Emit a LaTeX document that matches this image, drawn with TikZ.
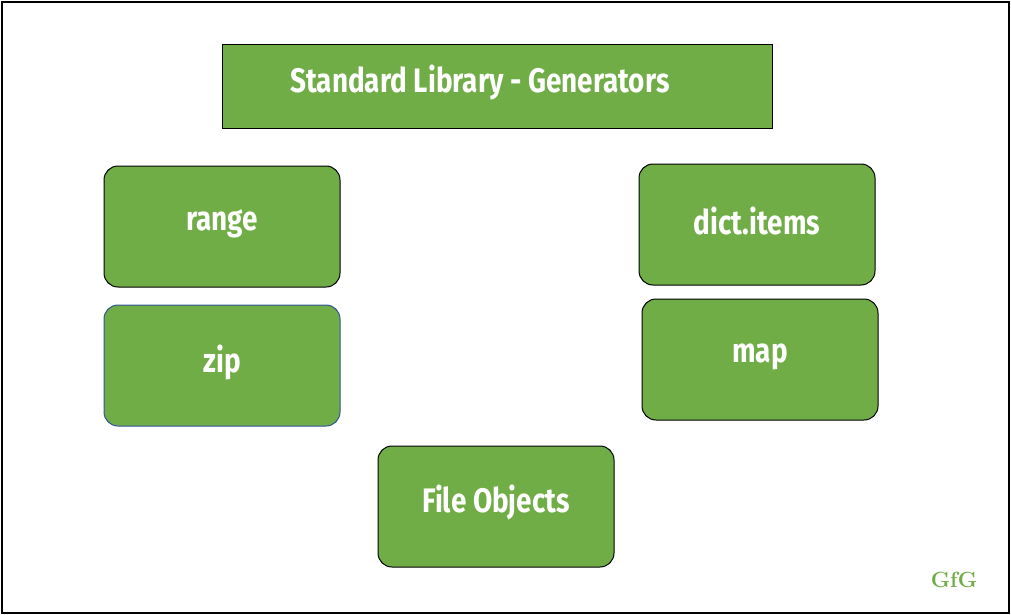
\documentclass[tikz,border=0pt]{standalone}
\usepackage{fontspec}
\setsansfont{Fira Sans}
\definecolor{gfg}{HTML}{70AD47}
\definecolor{zipb}{HTML}{2F5597}
\begin{document}
\begin{tikzpicture}[x=1pt,y=-1pt,
  box/.style={draw=black,fill=gfg,rounded corners=14pt,line width=1pt},
  lbl/.style={text=white,xscale=0.82,font=\sffamily\bfseries\fontsize{34}{38}\selectfont}]
\useasboundingbox (0,0) rectangle (1011,615);
\draw[line width=1.2pt] (2,2) rectangle (1009,613);
\draw[fill=gfg,line width=1pt] (222,45) rectangle (772,128);
\node[lbl] (t) at (480,82) {Standard Library - Generators};
\draw[box] (104,166) rectangle (340,287);
\node[lbl] (r) at (222,224) {range};
\draw[box,draw=zipb] (104,305) rectangle (340,426);
\node[lbl] (z) at (222,362) {zip};
\draw[box] (639,164) rectangle (875,285);
\node[lbl] (d) at (757,221) {dict.items};
\draw[box] (642,299) rectangle (878,420);
\node[lbl] (m) at (760,357) {map};
\draw[box] (378,446) rectangle (614,567);
\node[lbl] (f) at (496,502) {File Objects};
\node[text=gfg,font=\bfseries\fontsize{22}{24}\selectfont] (g) at (954,580) {GfG};
\end{tikzpicture}
\end{document}
